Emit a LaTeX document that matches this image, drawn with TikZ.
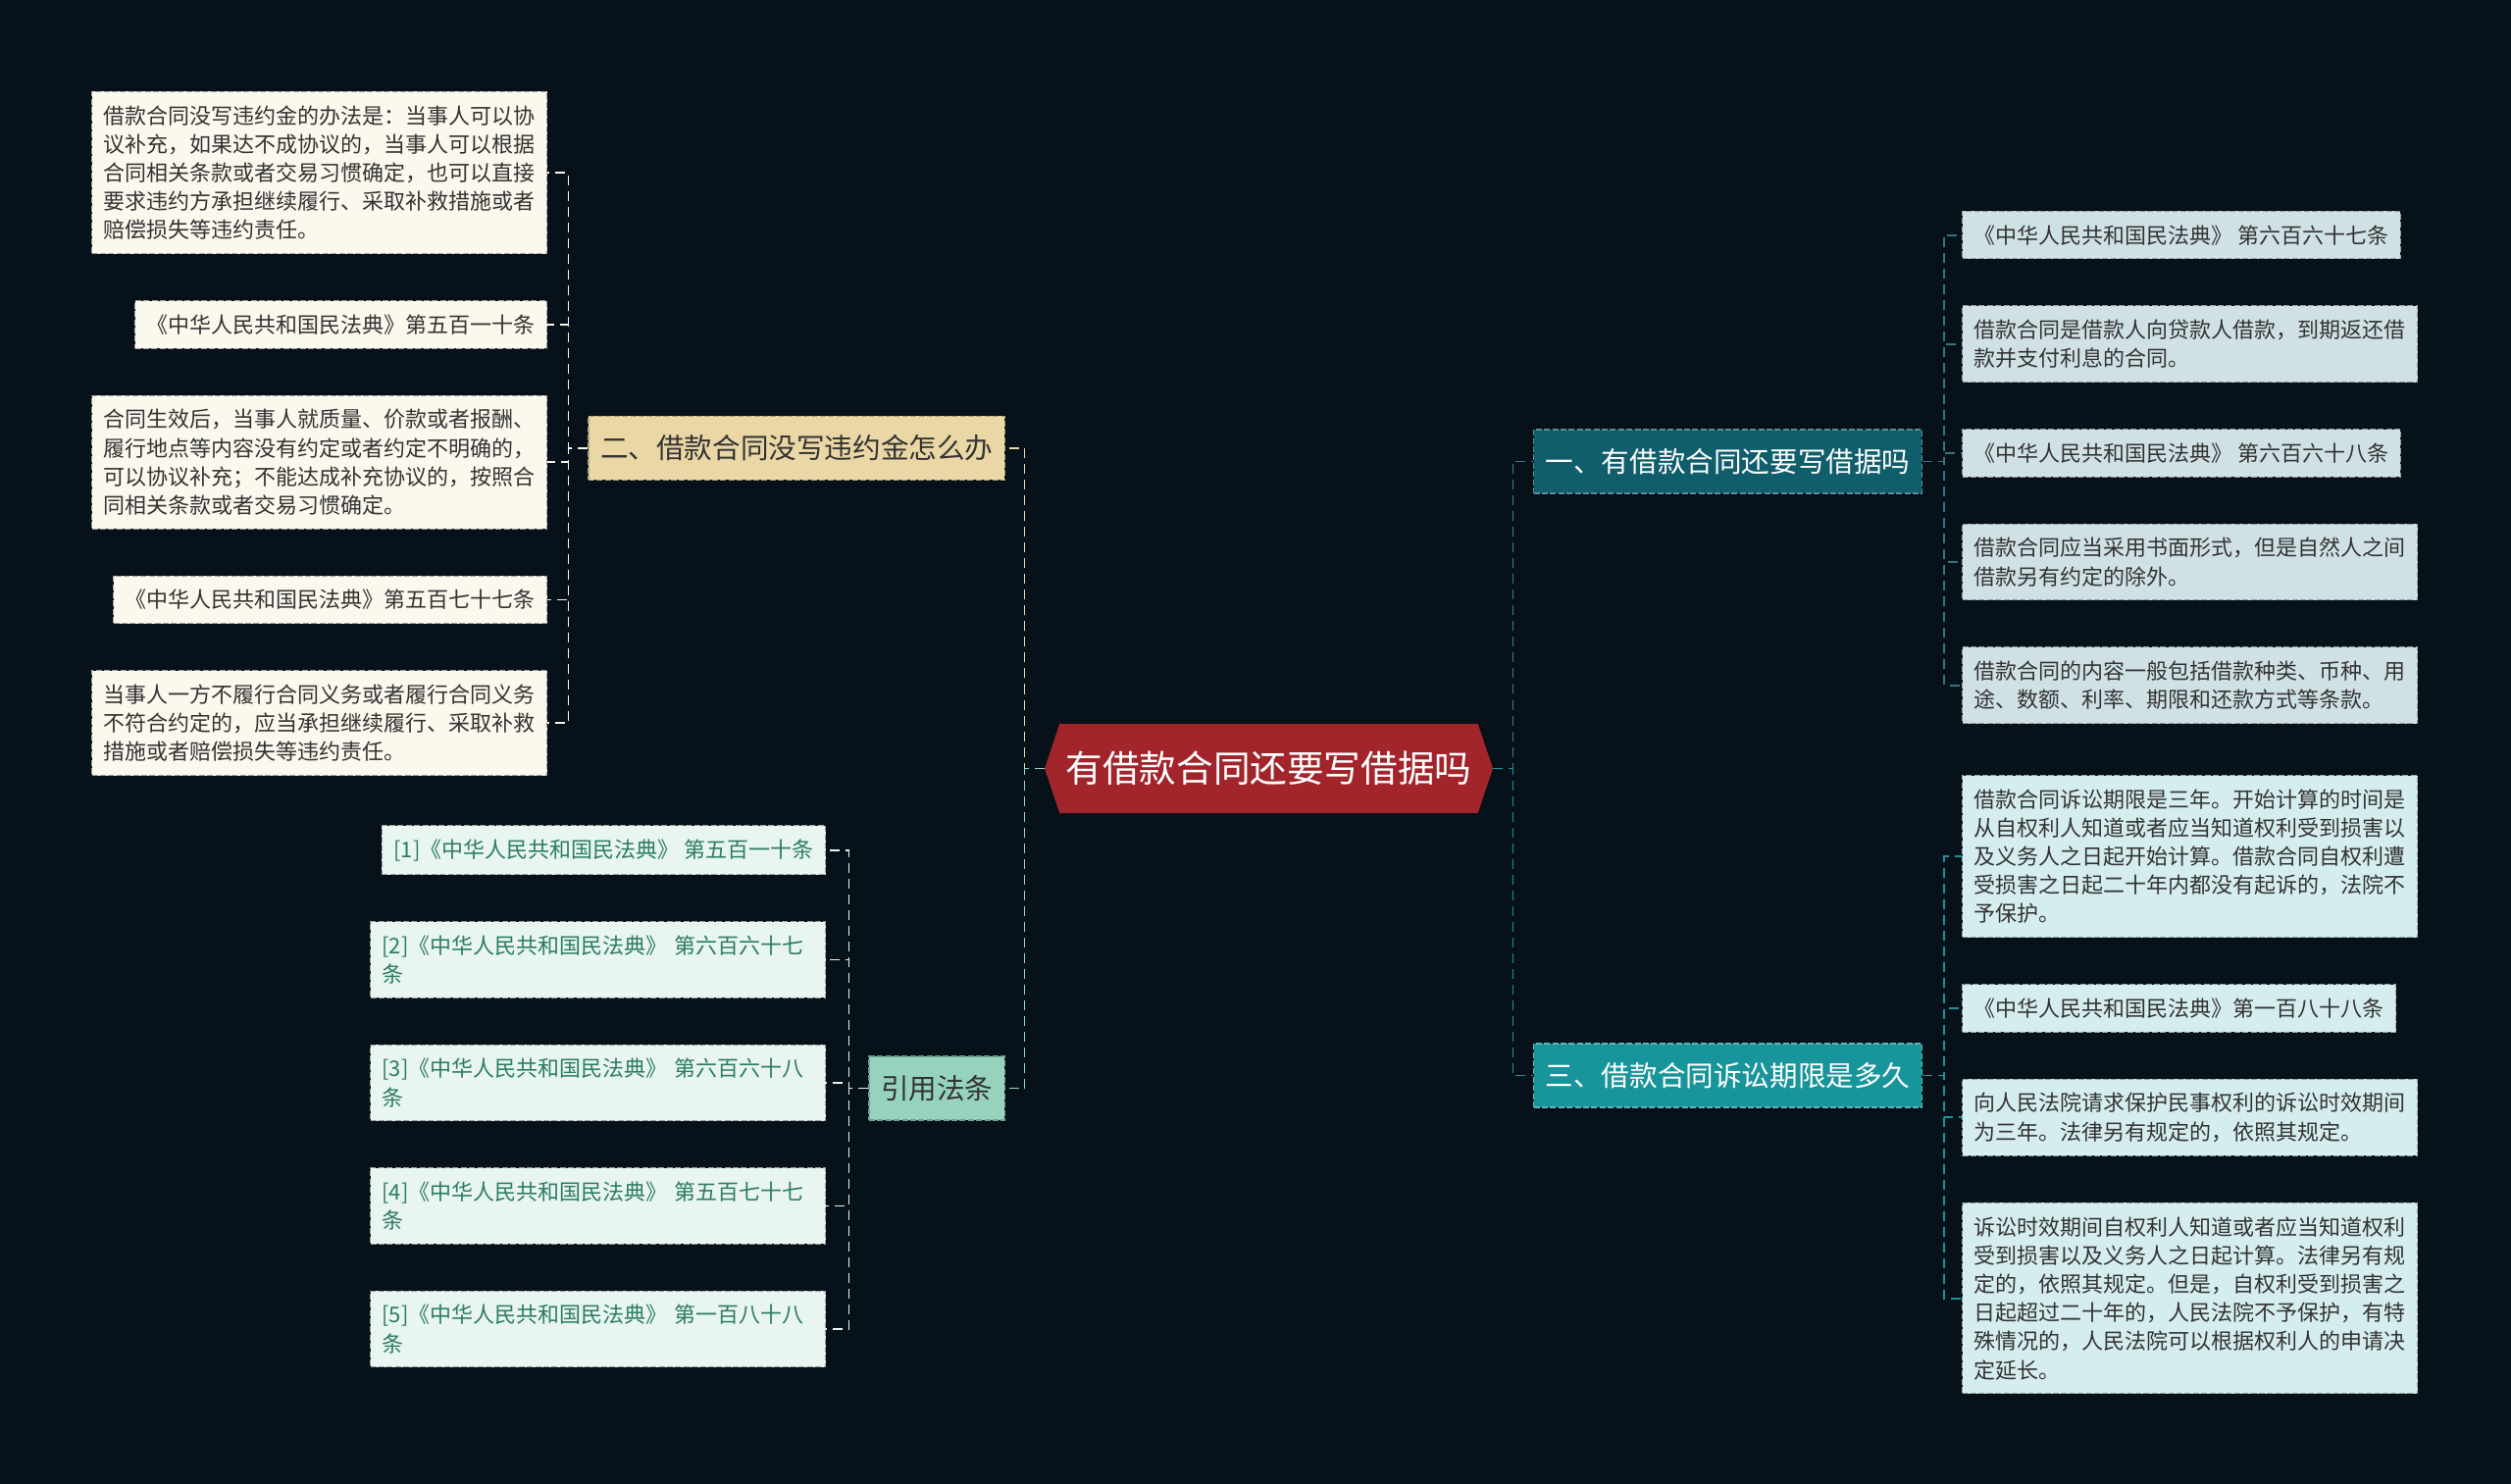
\documentclass[tikz,border=0pt]{standalone}
\usepackage{fontspec}
\setmainfont{Noto Sans CJK SC}
\usetikzlibrary{positioning,shapes.symbols}
\definecolor{night}{HTML}{06111A}
\definecolor{rootred}{HTML}{A1252B}
\definecolor{deepteal}{HTML}{105D6B}
\definecolor{brightteal}{HTML}{18959A}
\definecolor{sand}{HTML}{EAD7A5}
\definecolor{mint}{HTML}{96D3BF}
\definecolor{paleblue}{HTML}{D0E1E5}
\definecolor{palecyan}{HTML}{D5EDEE}
\definecolor{cream}{HTML}{FBF8EE}
\definecolor{palemint}{HTML}{E8F5F0}
\definecolor{ink}{HTML}{333333}
\definecolor{leafgreen}{HTML}{2D7D5E}

\tikzset{
  box/.style={rectangle,draw,line width=0.5pt,dash pattern=on 3pt off 1.2pt,
    inner xsep=6pt,inner ysep=7pt,align=left,text=ink,
    font=\fontsize{11pt}{14.6pt}\selectfont},
  wide/.style={box,text width=220pt},
  topic/.style={rectangle,draw,line width=0.6pt,dash pattern=on 3pt off 1.2pt,
    inner xsep=6pt,minimum height=32.5pt,font=\fontsize{14.3pt}{17pt}\selectfont},
  link/.style={line width=0.9pt,dash pattern=on 5pt off 3pt},
  nextr/.style={below=23.5pt of #1.south west,anchor=north west},
  nextl/.style={below=23.5pt of #1.south east,anchor=north east}
}

\begin{document}
\begin{tikzpicture}[x=0.5pt,y=-0.5pt]
\path[fill=night,use as bounding box] (0,0) rectangle (2560,1513);

% centre
\node[shape=signal,signal to=east and west,signal pointer angle=143,fill=rootred,text=white,
  font=\fontsize{18.8pt}{22pt}\selectfont,minimum width=228.5pt,minimum height=45.5pt,inner xsep=0pt]
  (root) at (1293.5,783.5) {有借款合同还要写借据吗};

% main topics
\node[topic,fill=deepteal,draw=deepteal!70!white,text=white,anchor=west] (q1) at (1563,470.5) {一、有借款合同还要写借据吗};
\node[topic,fill=brightteal,draw=brightteal!70!white,text=white,anchor=west] (q3) at (1563,1096.5) {三、借款合同诉讼期限是多久};
\node[topic,fill=sand,draw=sand!75!black,text=ink,anchor=east] (q2) at (1025,457) {二、借款合同没写违约金怎么办};
\node[topic,fill=mint,draw=mint!75!black,text=ink,anchor=east] (q4) at (1025,1109.5) {引用法条};

% topic one
\node[box,fill=paleblue,draw=paleblue!70!black,anchor=north west] (a1) at (2000,215) {《中华人民共和国民法典》 第六百六十七条};
\node[wide,fill=paleblue,draw=paleblue!70!black,nextr=a1] (a2) {借款合同是借款人向贷款人借款，到期返还借\\款并支付利息的合同。};
\node[box,fill=paleblue,draw=paleblue!70!black,nextr=a2] (a3) {《中华人民共和国民法典》 第六百六十八条};
\node[wide,fill=paleblue,draw=paleblue!70!black,nextr=a3] (a4) {借款合同应当采用书面形式，但是自然人之间\\借款另有约定的除外。};
\node[wide,fill=paleblue,draw=paleblue!70!black,nextr=a4] (a5) {借款合同的内容一般包括借款种类、币种、用\\途、数额、利率、期限和还款方式等条款。};

% topic three
\node[wide,fill=palecyan,draw=palecyan!70!black,anchor=north west] (c1) at (2000,790) {借款合同诉讼期限是三年。开始计算的时间是\\从自权利人知道或者应当知道权利受到损害以\\及义务人之日起开始计算。借款合同自权利遭\\受损害之日起二十年内都没有起诉的，法院不\\予保护。};
\node[box,fill=palecyan,draw=palecyan!70!black,nextr=c1] (c2) {《中华人民共和国民法典》第一百八十八条};
\node[wide,fill=palecyan,draw=palecyan!70!black,nextr=c2] (c3) {向人民法院请求保护民事权利的诉讼时效期间\\为三年。法律另有规定的，依照其规定。};
\node[wide,fill=palecyan,draw=palecyan!70!black,nextr=c3] (c4) {诉讼时效期间自权利人知道或者应当知道权利\\受到损害以及义务人之日起计算。法律另有规\\定的，依照其规定。但是，自权利受到损害之\\日起超过二十年的，人民法院不予保护，有特\\殊情况的，人民法院可以根据权利人的申请决\\定延长。};

% topic two
\node[wide,fill=cream,draw=cream!65!black,anchor=north east] (d1) at (558,93) {借款合同没写违约金的办法是：当事人可以协\\议补充，如果达不成协议的，当事人可以根据\\合同相关条款或者交易习惯确定，也可以直接\\要求违约方承担继续履行、采取补救措施或者\\赔偿损失等违约责任。};
\node[box,fill=cream,draw=cream!65!black,nextl=d1] (d2) {《中华人民共和国民法典》第五百一十条};
\node[wide,fill=cream,draw=cream!65!black,nextl=d2] (d3) {合同生效后，当事人就质量、价款或者报酬、\\履行地点等内容没有约定或者约定不明确的，\\可以协议补充；不能达成补充协议的，按照合\\同相关条款或者交易习惯确定。};
\node[box,fill=cream,draw=cream!65!black,nextl=d3] (d4) {《中华人民共和国民法典》第五百七十七条};
\node[wide,fill=cream,draw=cream!65!black,nextl=d4] (d5) {当事人一方不履行合同义务或者履行合同义务\\不符合约定的，应当承担继续履行、采取补救\\措施或者赔偿损失等违约责任。};

% cited articles
\node[box,fill=palemint,draw=palemint!65!black,text=leafgreen,anchor=north east] (e1) at (842,841) {[1]《中华人民共和国民法典》 第五百一十条};
\node[wide,fill=palemint,draw=palemint!65!black,text=leafgreen,nextl=e1] (e2) {[2]《中华人民共和国民法典》 第六百六十七\\条};
\node[wide,fill=palemint,draw=palemint!65!black,text=leafgreen,nextl=e2] (e3) {[3]《中华人民共和国民法典》 第六百六十八\\条};
\node[wide,fill=palemint,draw=palemint!65!black,text=leafgreen,nextl=e3] (e4) {[4]《中华人民共和国民法典》 第五百七十七\\条};
\node[wide,fill=palemint,draw=palemint!65!black,text=leafgreen,nextl=e4] (e5) {[5]《中华人民共和国民法典》 第一百八十八\\条};

% links
\draw[link,draw=deepteal!80!white] (root.east) -- ++(20,0) |- (q1.west);
\draw[link,draw=brightteal] (root.east) -- ++(20,0) |- (q3.west);
\draw[link,draw=sand] (root.west) -- ++(-20,0) |- (q2.east);
\draw[link,draw=mint] (root.west) -- ++(-20,0) |- (q4.east);
\foreach \n in {a1,a2,a3,a4,a5} \draw[link,draw=deepteal!85!white] (q1.east) -- ++(22,0) |- (\n.west);
\foreach \n in {c1,c2,c3,c4} \draw[link,draw=brightteal] (q3.east) -- ++(22,0) |- (\n.west);
\foreach \n in {d1,d2,d3,d4,d5} \draw[link,draw=cream!90!sand] (q2.west) -- ++(-20,0) |- (\n.east);
\foreach \n in {e1,e2,e3,e4,e5} \draw[link,draw=palemint] (q4.west) -- ++(-20,0) |- (\n.east);
\end{tikzpicture}
\end{document}
